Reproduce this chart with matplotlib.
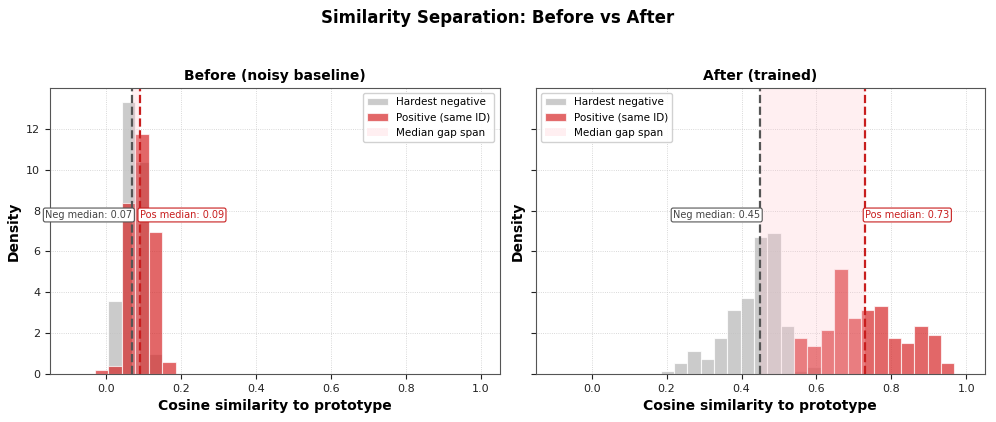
import numpy as np
import matplotlib
matplotlib.use("Agg")
import matplotlib.pyplot as plt

# before (noisy baseline): shared bin edges + density heights
before_edges = np.linspace(-0.030, 0.186, 7)
before_neg = [0.0, 3.58, 13.33, 10.36, 1.0, 0.0]
before_pos = [0.2, 0.39, 8.36, 11.74, 6.94, 0.6]
before_medians = (0.07, 0.09)

# after (trained)
after_edges = np.linspace(0.184, 0.968, 23)
after_neg = [0.15, 0.55, 1.15, 0.75, 1.76, 3.14, 3.72, 6.70, 6.91, 2.34, 0.16, 0.36,
             0, 0, 0, 0, 0, 0, 0, 0, 0, 0]
after_pos = [0, 0, 0, 0, 0, 0, 0, 0, 0, 0, 1.76, 1.35,
             2.13, 5.12, 2.73, 3.12, 3.32, 1.76, 1.53, 2.34, 1.93, 0.55]
after_medians = (0.45, 0.73)

titles = ["Before (noisy baseline)", "After (trained)"]

NEG_C = "#555555"
POS_C = "#c81e1e"

fig, axes = plt.subplots(1, 2, figsize=(9.96, 4.22), dpi=100, sharey=True)
fig.subplots_adjust(left=0.0502, right=0.989, bottom=0.1137, top=0.7915, wspace=0.08)

panels = [(before_edges, before_neg, before_pos, before_medians),
          (after_edges, after_neg, after_pos, after_medians)]

for ax, (edges, neg, pos, med), title in zip(axes, panels, titles):
    centers = (edges[:-1] + edges[1:]) / 2
    ax.hist(centers, bins=edges, weights=neg, color="#bfbfbf", alpha=0.8,
            edgecolor="white", linewidth=0.8, label="Hardest negative")
    ax.hist(centers, bins=edges, weights=pos, color="#d62728", alpha=0.7,
            edgecolor="white", linewidth=0.8, label="Positive (same ID)")
    ax.axvspan(med[0], med[1], color="pink", alpha=0.25, lw=0, label="Median gap span")
    ax.axvline(med[0], color=NEG_C, ls="--", lw=1.6)
    ax.axvline(med[1], color=POS_C, ls="--", lw=1.6)
    ax.set_xlim(-0.15, 1.05)
    ax.grid(True, ls=":", lw=0.6, color="#cccccc")
    ax.set_axisbelow(True)
    for s in ax.spines.values():
        s.set_color("#555555")
    ax.tick_params(labelsize=8, colors="#222222")
    ax.set_title(title, fontsize=10, fontweight="bold")
    ax.set_xlabel("Cosine similarity to prototype", fontsize=10, fontweight="bold")
    ax.set_ylabel("Density", fontsize=10, fontweight="bold")
    ax.legend(loc="best", fontsize=7.5, framealpha=0.9)

for ax, (edges, neg, pos, med) in zip(axes, panels):
    ytxt = ax.get_ylim()[1] * 0.556
    ax.text(med[0], ytxt, f"Neg median: {med[0]:.2f}", ha="right", va="center",
            fontsize=7, color="#444444",
            bbox=dict(boxstyle="round,pad=0.2", fc="white", ec=NEG_C, lw=0.8))
    ax.text(med[1], ytxt, f"Pos median: {med[1]:.2f}", ha="left", va="center",
            fontsize=7, color=POS_C,
            bbox=dict(boxstyle="round,pad=0.2", fc="white", ec=POS_C, lw=0.8))

axes[1].tick_params(labelleft=False)
axes[1].yaxis.label.set_visible(True)

fig.suptitle("Similarity Separation: Before vs After", fontsize=12, fontweight="bold", y=0.957, va="center")

fig.savefig("out.png", dpi=100)
